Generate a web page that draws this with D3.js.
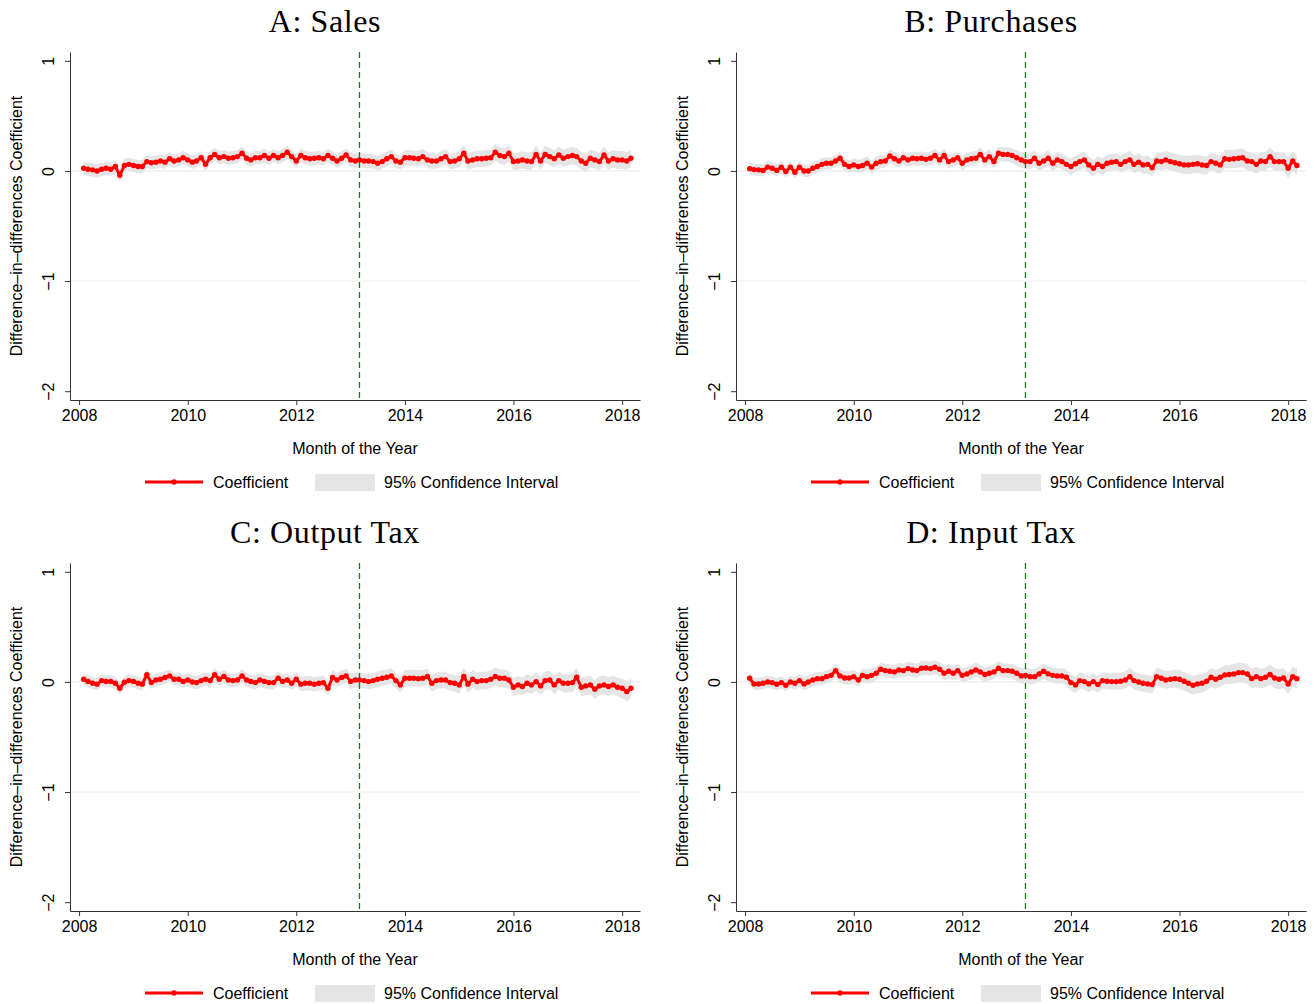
<!DOCTYPE html>
<html>
<head>
<meta charset="utf-8">
<script src="https://cdn.jsdelivr.net/npm/d3@7"></script>
<style>
  html, body { margin: 0; padding: 0; background: #fff; }
  svg text { font-family: "Liberation Sans", Arial, sans-serif; fill: #000; }
</style>
</head>
<body>
<svg id="chart" width="1315" height="1004"></svg>
<script>
// ---- Data (monthly coefficients, Feb 2008 .. Mar 2018) ----
const titles = ["A: Sales", "B: Purchases", "C: Output Tax", "D: Input Tax"];
const yTickValues = [1, 0, -1, -2];
const xTickYears = [2008, 2010, 2012, 2014, 2016, 2018];
const ciYears = [2008, 2009, 2010, 2011, 2012, 2013, 2014, 2015, 2016, 2017, 2018];
const reformDate = new Date(2013, 2, 1);

const coefA = [
  0.025, 0.015, 0.01, 0.0, 0.015, 0.025, 0.015, 0.04, -0.04, 0.05,
  0.06, 0.05, 0.04, 0.04, 0.085, 0.075, 0.08, 0.09, 0.08, 0.11,
  0.09, 0.10, 0.12, 0.10, 0.08, 0.09, 0.12, 0.06, 0.12, 0.15,
  0.12, 0.13, 0.115, 0.12, 0.13, 0.16, 0.115, 0.10, 0.12, 0.12,
  0.14, 0.115, 0.14, 0.12, 0.14, 0.17, 0.13, 0.09, 0.14, 0.12,
  0.11, 0.115, 0.12, 0.11, 0.14, 0.115, 0.09, 0.115, 0.145, 0.10,
  0.09, 0.10, 0.09, 0.09, 0.085, 0.07, 0.085, 0.11, 0.13, 0.09,
  0.08, 0.12, 0.12, 0.115, 0.11, 0.13, 0.10, 0.09, 0.09, 0.11,
  0.13, 0.085, 0.09, 0.11, 0.16, 0.09, 0.10, 0.11, 0.11, 0.115,
  0.12, 0.17, 0.14, 0.13, 0.16, 0.085, 0.09, 0.10, 0.09, 0.085,
  0.15, 0.09, 0.15, 0.13, 0.11, 0.145, 0.115, 0.13, 0.14, 0.13,
  0.09, 0.07, 0.115, 0.10, 0.085, 0.145, 0.09, 0.11, 0.10, 0.10,
  0.09, 0.115
];
const coefB = [
  0.02, 0.012, 0.01, 0.005, 0.035, 0.025, 0.005, 0.035, -0.005, 0.035,
  -0.012, 0.035, 0.0, 0.0, 0.025, 0.04, 0.06, 0.07, 0.07, 0.09,
  0.115, 0.06, 0.04, 0.055, 0.04, 0.05, 0.07, 0.035, 0.07, 0.085,
  0.09, 0.135, 0.11, 0.09, 0.12, 0.10, 0.115, 0.11, 0.115, 0.105,
  0.115, 0.14, 0.10, 0.14, 0.085, 0.10, 0.12, 0.07, 0.10, 0.11,
  0.115, 0.15, 0.10, 0.13, 0.085, 0.16, 0.15, 0.15, 0.14, 0.12,
  0.10, 0.085, 0.085, 0.115, 0.07, 0.09, 0.115, 0.07, 0.10, 0.085,
  0.06, 0.04, 0.065, 0.085, 0.10, 0.055, 0.025, 0.06, 0.04, 0.07,
  0.08, 0.085, 0.06, 0.085, 0.10, 0.06, 0.08, 0.055, 0.06, 0.03,
  0.09, 0.085, 0.10, 0.085, 0.075, 0.065, 0.055, 0.055, 0.06, 0.065,
  0.055, 0.05, 0.085, 0.07, 0.055, 0.11, 0.105, 0.11, 0.115, 0.12,
  0.09, 0.085, 0.06, 0.09, 0.085, 0.13, 0.085, 0.085, 0.085, 0.025,
  0.09, 0.05
];
const coefC = [
  0.025, 0.005, -0.012, -0.02, 0.012, 0.005, 0.005, -0.012, -0.058, -0.003,
  0.012, 0.005, -0.012, -0.02, 0.065, -0.006, 0.018, 0.025, 0.04, 0.055,
  0.025, 0.025, 0.005, 0.018, 0.0, -0.006, 0.012, 0.025, 0.012, 0.065,
  0.025, 0.05, 0.018, 0.012, 0.018, 0.055, 0.018, 0.005, -0.006, 0.018,
  0.005, -0.006, -0.006, 0.035, 0.005, 0.018, -0.012, 0.025, -0.02, -0.012,
  -0.012, -0.02, -0.012, -0.006, -0.058, 0.04, 0.018, 0.04, 0.055, 0.005,
  0.018, 0.018, 0.012, 0.003, 0.012, 0.025, 0.033, 0.042, 0.055, 0.012,
  -0.027, 0.033, 0.033, 0.033, 0.03, 0.033, 0.05, -0.012, 0.012, 0.018,
  0.018, -0.006, -0.012, -0.027, 0.05, -0.02, 0.025, 0.003, 0.012, 0.012,
  0.025, 0.05, 0.033, 0.033, 0.018, -0.048, -0.027, -0.042, -0.012, -0.027,
  0.003, -0.036, 0.012, 0.018, -0.027, 0.012, -0.012, -0.012, -0.006, 0.042,
  -0.048, -0.036, -0.027, -0.067, -0.036, -0.027, -0.042, -0.027, -0.048, -0.058,
  -0.088, -0.058
];
const coefD = [
  0.033, -0.018, -0.018, -0.012, 0.0, -0.006, -0.021, -0.006, -0.03, 0.0,
  -0.012, 0.012, -0.018, 0.0, 0.018, 0.03, 0.03, 0.048, 0.06, 0.103,
  0.055, 0.036, 0.036, 0.048, 0.018, 0.06, 0.048, 0.06, 0.079, 0.115,
  0.103, 0.097, 0.091, 0.109, 0.103, 0.121, 0.109, 0.103, 0.124, 0.127,
  0.121, 0.133, 0.115, 0.079, 0.097, 0.079, 0.103, 0.06, 0.073, 0.091,
  0.109, 0.091, 0.067, 0.079, 0.091, 0.124, 0.103, 0.103, 0.097, 0.079,
  0.055, 0.06, 0.048, 0.048, 0.073, 0.097, 0.073, 0.06, 0.055, 0.055,
  0.042, -0.006, -0.027, 0.012, 0.003, -0.018, 0.003, -0.024, 0.012, 0.006,
  0.003, 0.003, 0.006, 0.018, 0.048, 0.012, 0.0, -0.012, -0.018, -0.024,
  0.048, 0.033, 0.018, 0.024, 0.03, 0.024, 0.006, -0.012, -0.03, -0.018,
  -0.012, 0.006, 0.042, 0.024, 0.042, 0.064, 0.067, 0.073, 0.085, 0.085,
  0.073, 0.03, 0.048, 0.03, 0.042, 0.067, 0.036, 0.024, 0.036, -0.018,
  0.048, 0.03
];
// 95% CI half-widths read per year (2008..2018)
const ciHalfA = [0.06, 0.06, 0.06, 0.06, 0.062, 0.065, 0.07, 0.075, 0.078, 0.08, 0.08];
const ciHalfB = [0.055, 0.055, 0.06, 0.062, 0.065, 0.07, 0.075, 0.08, 0.082, 0.085, 0.09];
const ciHalfC = [0.055, 0.058, 0.06, 0.062, 0.065, 0.07, 0.075, 0.08, 0.082, 0.085, 0.09];
const ciHalfD = [0.055, 0.06, 0.062, 0.065, 0.065, 0.07, 0.075, 0.08, 0.085, 0.09, 0.09];

const months = d3.timeMonth.range(new Date(2008, 1, 1), new Date(2018, 3, 1)); // Feb 2008 .. Mar 2018

const panels = [
  { title: titles[0], coef: coefA, ci: ciHalfA, dx: 0, dy: 0 },
  { title: titles[1], coef: coefB, ci: ciHalfB, dx: 666, dy: 0 },
  { title: titles[2], coef: coefC, ci: ciHalfC, dx: 0, dy: 511 },
  { title: titles[3], coef: coefD, ci: ciHalfD, dx: 666, dy: 511 }
];

const svg = d3.select("#chart");
svg.append("rect").attr("width", 1315).attr("height", 1004).attr("fill", "#fff");

const x = d3.scaleTime()
  .domain([new Date(2007, 10, 1), new Date(2018, 4, 1)])
  .range([70, 640]);
const y = d3.scaleLinear().domain([-2.08, 1.08]).range([400, 52]);

const FS = "16px";

panels.forEach(p => {
  const g = svg.append("g").attr("transform", `translate(${p.dx},${p.dy})`);
  const data = months.map((d, i) => {
    const h = p.ci[ciYears.indexOf(d.getFullYear())];
    return { date: d, v: p.coef[i], lo: p.coef[i] - h, hi: p.coef[i] + h };
  });

  // title
  g.append("text").attr("x", 325).attr("y", 32)
    .attr("text-anchor", "middle")
    .style("font-family", "'Palatino Linotype','Book Antiqua',Palatino,'Liberation Serif',serif")
    .style("font-size", "32px")
    .style("letter-spacing", "0.6px")
    .text(p.title);

  // gridlines
  [0, -1].forEach(v => {
    g.append("line").attr("x1", 70).attr("x2", 640)
      .attr("y1", y(v)).attr("y2", y(v))
      .attr("stroke", v === 0 ? "#dfe9ee" : "#eaeeef").attr("stroke-width", 1);
  });

  // CI band
  g.append("path").datum(data)
    .attr("fill", "#e5e5e5")
    .attr("d", d3.area().x(d => x(d.date)).y0(d => y(d.lo)).y1(d => y(d.hi)));

  // line
  g.append("path").datum(data)
    .attr("fill", "none").attr("stroke", "#ff0000").attr("stroke-width", 3)
    .attr("stroke-linejoin", "round")
    .attr("d", d3.line().x(d => x(d.date)).y(d => y(d.v)));
  g.append("g").selectAll("circle").data(data).join("circle")
    .attr("cx", d => x(d.date)).attr("cy", d => y(d.v)).attr("r", 2.7)
    .attr("fill", "#ff0000");

  // reform dashed line
  g.append("line").attr("x1", x(reformDate)).attr("x2", x(reformDate))
    .attr("y1", 52).attr("y2", 400)
    .attr("stroke", "#1f7a1f").attr("stroke-width", 1.3)
    .attr("stroke-dasharray", "6,4");

  // y axis
  const ya = g.append("g").attr("transform", "translate(70,0)")
    .call(d3.axisLeft(y).tickValues(yTickValues).tickSize(5).tickSizeOuter(0)
      .tickFormat(d => d < 0 ? "\u2212" + Math.abs(d) : d));
  ya.select(".domain").attr("stroke", "#333");
  ya.selectAll(".tick line").attr("stroke", "#333");
  ya.selectAll(".tick text")
    .attr("transform", "rotate(-90)")
    .attr("x", 0).attr("y", -16).attr("dy", "0")
    .style("text-anchor", "middle").style("font-size", FS)
    .style("font-family", "'Liberation Sans', Arial, sans-serif");

  // x axis
  const xa = g.append("g").attr("transform", "translate(0,400)")
    .call(d3.axisBottom(x).tickValues(xTickYears.map(yr => new Date(yr, 0, 1)))
      .tickSize(5).tickSizeOuter(0).tickPadding(5).tickFormat(d3.timeFormat("%Y")));
  xa.select(".domain").attr("stroke", "#333");
  xa.selectAll(".tick line").attr("stroke", "#333");
  xa.selectAll(".tick text").style("font-size", FS)
    .style("font-family", "'Liberation Sans', Arial, sans-serif");

  // axis titles
  g.append("text").attr("transform", "translate(22,226) rotate(-90)")
    .attr("text-anchor", "middle").style("font-size", FS)
    .text("Difference\u2013in\u2013differences Coefficient");
  g.append("text").attr("x", 355).attr("y", 454)
    .attr("text-anchor", "middle").style("font-size", FS)
    .text("Month of the Year");

  // legend
  const lg = g.append("g");
  lg.append("line").attr("x1", 145).attr("x2", 203).attr("y1", 482).attr("y2", 482)
    .attr("stroke", "#ff0000").attr("stroke-width", 3);
  lg.append("circle").attr("cx", 174).attr("cy", 482).attr("r", 2.7).attr("fill", "#ff0000");
  lg.append("text").attr("x", 213).attr("y", 488).style("font-size", FS).text("Coefficient");
  lg.append("rect").attr("x", 315).attr("y", 474).attr("width", 60).attr("height", 17)
    .attr("fill", "#e5e5e5");
  lg.append("text").attr("x", 384).attr("y", 488).style("font-size", FS).text("95% Confidence Interval");
});
</script>
</body>
</html>
